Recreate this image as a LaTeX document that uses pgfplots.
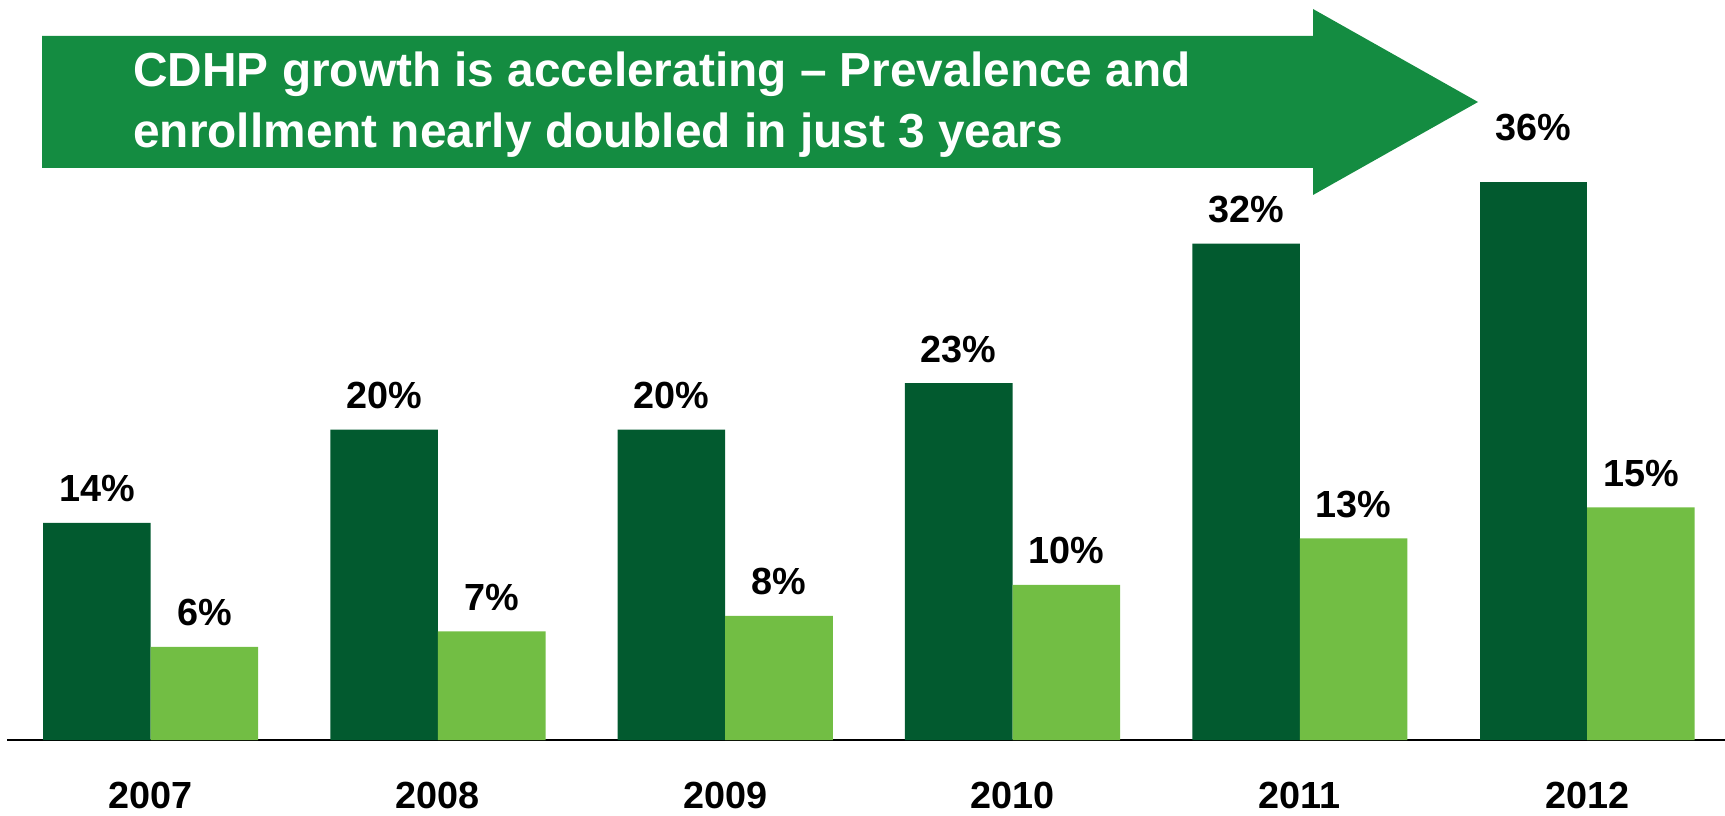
\documentclass[border=0pt]{standalone}
\usepackage{fontspec}
\setmainfont{Liberation Sans}
\usepackage{pgfplots}
\pgfplotsset{compat=1.18}
\definecolor{darkg}{RGB}{2,90,47}
\definecolor{lightg}{RGB}{114,190,68}
\definecolor{arrowg}{RGB}{20,140,65}
\begin{document}
\begin{tikzpicture}
\useasboundingbox (-3.5pt,-37.5pt) rectangle (859pt,370pt);
\begin{axis}[
  at={(0pt,0pt)}, anchor=south west,
  scale only axis, width=859pt, height=370pt,
  xmin=-0.5, xmax=5.48, ymin=0, ymax=47.7,
  axis x line=bottom, axis y line=none,
  x axis line style={-, line width=1.1pt, black},
  ybar=0pt, bar width=0.3744,
  xtick={0,...,5}, xticklabels={2007,2008,2009,2010,2011,2012},
  major tick length=0pt, ytick=\empty,
  /pgf/number format/assume math mode=true,
  xticklabel style={anchor=base, inner sep=0pt, yshift=-34pt, font=\fontsize{18.9pt}{22pt}\selectfont\bfseries},
  nodes near coords={\pgfmathprintnumber{\pgfplotspointmeta}\%},
  every node near coord/.append style={anchor=base, yshift=10.5pt, inner sep=0pt, font=\fontsize{18.9pt}{22pt}\selectfont\bfseries, black},
]
\addplot[fill=darkg, draw=none, bar shift=-0.1872] coordinates {(0,14) (1,20) (2,20) (3,23) (4,32)};
\addplot[fill=lightg, draw=none, bar shift=0.1872] coordinates {(0,6) (1,7) (2,8) (3,10) (4,13) (5,15)};
\addplot[fill=darkg, draw=none, bar shift=-0.1872, every node near coord/.append style={yshift=10pt}] coordinates {(5,36)};
\end{axis}
\fill[arrowg] (17.5pt,352pt) -- (653pt,352pt) -- (653pt,365.5pt) -- (735.5pt,319pt) -- (653pt,272.5pt) -- (653pt,286pt) -- (17.5pt,286pt) -- cycle;
\node[anchor=base west, inner sep=0pt, text=white, font=\fontsize{23.9pt}{30.5pt}\selectfont\bfseries] at (63pt,326.5pt) {CDHP growth is accelerating -- Prevalence and};
\node[anchor=base west, inner sep=0pt, text=white, font=\fontsize{23.9pt}{30.5pt}\selectfont\bfseries] at (63pt,296pt) {enrollment nearly doubled in just 3 years};
\end{tikzpicture}
\end{document}
